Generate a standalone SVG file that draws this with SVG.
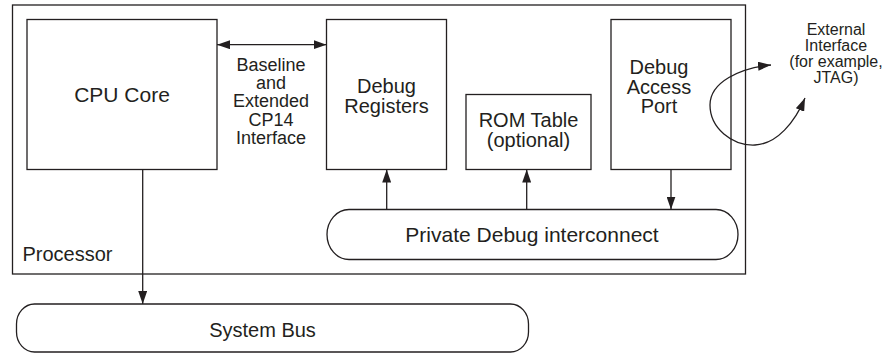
<svg xmlns="http://www.w3.org/2000/svg" width="896" height="353" viewBox="0 0 896 353">
  <style>
    .box { fill: #ffffff; stroke: #231f20; stroke-width: 1.3; }
    .frame { fill: none; stroke: #231f20; stroke-width: 1.3; }
    .wire { fill: none; stroke: #231f20; stroke-width: 1.3; }
    text { font-family: "Liberation Sans", Arial, Helvetica, sans-serif; fill: #231f20; text-anchor: middle; }
    .lg { font-size: 21px; }
    .md { font-size: 20px; }
    .sm { font-size: 18px; }
    .xs { font-size: 16px; }
  </style>
  <defs>
    <marker id="ah" viewBox="0 0 13 9" refX="13" refY="4.5" markerWidth="13" markerHeight="9" orient="auto-start-reverse" markerUnits="userSpaceOnUse">
      <path d="M0,0 L13,4.5 L0,9 z" fill="#231f20"/>
    </marker>
  </defs>

  <!-- Processor boundary -->
  <g id="processor">
    <rect class="frame" x="12.5" y="5" width="733" height="269"/>
    <text class="md" x="22.5" y="261" style="text-anchor:start">Processor</text>
  </g>

  <g id="cpu-core">
    <rect class="box" x="27" y="19.5" width="190" height="150"/>
    <text class="lg" x="122" y="101.5">CPU Core</text>
  </g>

  <g id="debug-registers">
    <rect class="box" x="326.5" y="19.5" width="120" height="150"/>
    <text class="md" x="386.5" y="93">Debug</text>
    <text class="md" x="386.5" y="112.5">Registers</text>
  </g>

  <g id="rom-table">
    <rect class="box" x="466" y="94.5" width="125" height="75"/>
    <text class="md" x="528.5" y="127">ROM Table</text>
    <text class="md" x="528.5" y="146.5">(optional)</text>
  </g>

  <g id="debug-access-port">
    <rect class="box" x="611" y="19.5" width="120" height="150"/>
    <text class="md" x="659" y="74">Debug</text>
    <text class="md" x="659" y="93.5">Access</text>
    <text class="md" x="659" y="113">Port</text>
  </g>

  <g id="private-debug-interconnect">
    <rect class="box" x="327" y="209.5" width="411" height="50" rx="22" ry="25"/>
    <text class="lg" x="532" y="241.5">Private Debug interconnect</text>
  </g>

  <g id="system-bus">
    <rect class="box" x="16.5" y="304" width="512" height="48" rx="18" ry="20"/>
    <text class="md" x="262.5" y="336.5">System Bus</text>
  </g>

  <g id="cp14-interface-label">
    <text class="sm" x="271" y="70.7">Baseline</text>
    <text class="sm" x="271" y="89">and</text>
    <text class="sm" x="271" y="107.3">Extended</text>
    <text class="sm" x="271" y="125.6">CP14</text>
    <text class="sm" x="271" y="143.9">Interface</text>
  </g>

  <g id="external-interface-label">
    <text class="xs" x="836" y="34.5">External</text>
    <text class="xs" x="836" y="50.5">Interface</text>
    <text class="xs" x="836" y="66.5">(for example,</text>
    <text class="xs" x="836" y="82.5">JTAG)</text>
  </g>

  <!-- Connectors -->
  <g id="connectors">
    <path class="wire" d="M217,44.7 H326.5" marker-start="url(#ah)" marker-end="url(#ah)"/>
    <path class="wire" d="M142.7,169.5 V304" marker-end="url(#ah)"/>
    <path class="wire" d="M386.7,209.5 V169.5" marker-end="url(#ah)"/>
    <path class="wire" d="M526.7,209.5 V169.5" marker-end="url(#ah)"/>
    <path class="wire" d="M671,169.5 V209.5" marker-end="url(#ah)"/>
    <path class="wire" d="M771,65 C740,68 710,82 710,105 C710,128 732,146 755,145 C777,144 795,122 805,98" marker-start="url(#ah)" marker-end="url(#ah)"/>
  </g>
</svg>
